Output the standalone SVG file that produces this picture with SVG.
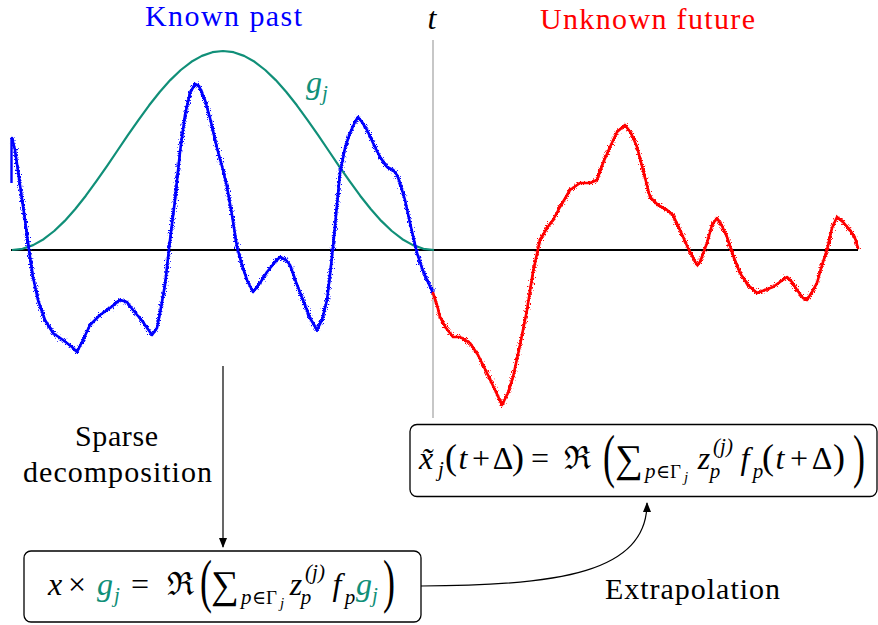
<svg xmlns="http://www.w3.org/2000/svg" width="878" height="625" viewBox="0 0 878 625">
<style>
text{font-family:"Liberation Serif","DejaVu Serif",serif;fill:#000}
.lab{font-size:30px}
.m{font-size:32px}
.i{font-style:italic}
.c{text-anchor:middle}
.s{font-size:21px}
.s2{font-size:19px}
.ss{font-size:15px}
.pr{font-size:36px}
.sum{font-size:39px}
.gr{fill:#108f78}
.box{fill:#fff;stroke:#000;stroke-width:1.3}
.conn{fill:none;stroke:#000;stroke-width:1.2}
.sig{fill:none;stroke-width:2.6;stroke-linejoin:round;stroke-linecap:round}
.fz{fill:none;stroke-width:2.2;stroke-linejoin:round;stroke-linecap:round}
</style>
<defs>
<marker id="ah" markerUnits="userSpaceOnUse" markerWidth="10" markerHeight="8" refX="9" refY="4" orient="auto">
<path d="M0,0 L10,4 L0,8 z" fill="#000"/>
</marker>
<filter id="jit" filterUnits="userSpaceOnUse" x="0" y="0" width="878" height="625">
<feTurbulence type="fractalNoise" baseFrequency="1.3" numOctaves="2" seed="4" result="n"/>
<feDisplacementMap in="SourceGraphic" in2="n" scale="9" xChannelSelector="R" yChannelSelector="G"/>
</filter>
</defs>

<g id="plot">
<line x1="433" y1="40" x2="433" y2="418" stroke="#b5b5b5" stroke-width="1.5"/>
<line x1="11" y1="250" x2="858" y2="250" stroke="#000" stroke-width="2"/>
<polyline fill="none" stroke="#108f78" stroke-width="2.2" stroke-linejoin="round" points="12,250 22.55,248.8 33.1,245.1 43.65,239.2 54.2,231 64.75,220.9 75.3,209 85.85,195.7 96.4,181.2 106.95,166.1 117.5,150.5 128.05,134.9 138.6,119.8 149.15,105.3 159.7,92 170.25,80.1 180.8,70 191.35,61.8 201.9,55.9 212.45,52.2 223,51 233.55,52.2 244.1,55.9 254.65,61.8 265.2,70 275.75,80.1 286.3,92 296.85,105.3 307.4,119.8 317.95,134.9 328.5,150.5 339.05,166.1 349.6,181.2 360.15,195.7 370.7,209 381.25,220.9 391.8,231 402.35,239.2 412.9,245.1 423.45,248.8 434,250"/>
<g id="past">
<line x1="11.5" y1="138" x2="11.5" y2="183" stroke="#0000ff" stroke-width="2.4"/>
<polyline class="sig" stroke="#0000ff" points="12,138 15,150 20,185 25,220 29,250 33,277 38,300 45,320 53,333 63,340 72,347 77,352 83,340 90,325 100,315 110,308 120,300 127,302 133,310 143,322 152,335 157,328 160,313 165,285 170,240 175,200 180,152 185,115 190,93 195,84 199,86 205,100 210,118 217,148 223,170 227,187 232,215 237,247 242,265 247,280 253,292 260,283 267,272 275,262 280,257 286,260 290,265 296,282 303,300 310,318 317,330 322,320 327,300 330,275 333,247 337,205 340,173 345,148 350,133 355,122 358,117 362,122 367,130 373,143 380,157 387,167 393,170 397,175 400,183 405,200 410,223 414,240 417,253 422,268 427,280 433,293"/>
<polyline class="fz" stroke="#0000ff" filter="url(#jit)" points="12,138 15,150 20,185 25,220 29,250 33,277 38,300 45,320 53,333 63,340 72,347 77,352 83,340 90,325 100,315 110,308 120,300 127,302 133,310 143,322 152,335 157,328 160,313 165,285 170,240 175,200 180,152 185,115 190,93 195,84 199,86 205,100 210,118 217,148 223,170 227,187 232,215 237,247 242,265 247,280 253,292 260,283 267,272 275,262 280,257 286,260 290,265 296,282 303,300 310,318 317,330 322,320 327,300 330,275 333,247 337,205 340,173 345,148 350,133 355,122 358,117 362,122 367,130 373,143 380,157 387,167 393,170 397,175 400,183 405,200 410,223 414,240 417,253 422,268 427,280 433,293"/>
</g>
<g id="future">
<polyline class="sig" stroke="#ff0000" points="433,293 437,305 440,317 446,328 453,337 460,337 470,343 478,355 487,373 495,390 502,405 508,393 513,377 520,345 527,310 533,272 540,240 547,228 553,220 560,207 570,190 580,183 590,183 597,180 603,163 610,147 617,132 625,125 631,133 637,147 643,170 650,197 658,205 667,210 673,215 680,230 688,248 697,265 700,262 707,243 712,225 717,218 722,226 727,237 733,255 740,273 748,285 757,293 765,290 773,287 780,282 787,277 792,282 797,290 803,298 807,300 812,292 817,283 822,265 827,250 832,228 837,217 843,222 850,230 855,238 858,248"/>
<polyline class="fz" stroke="#ff0000" filter="url(#jit)" points="433,293 437,305 440,317 446,328 453,337 460,337 470,343 478,355 487,373 495,390 502,405 508,393 513,377 520,345 527,310 533,272 540,240 547,228 553,220 560,207 570,190 580,183 590,183 597,180 603,163 610,147 617,132 625,125 631,133 637,147 643,170 650,197 658,205 667,210 673,215 680,230 688,248 697,265 700,262 707,243 712,225 717,218 722,226 727,237 733,255 740,273 748,285 757,293 765,290 773,287 780,282 787,277 792,282 797,290 803,298 807,300 812,292 817,283 822,265 827,250 832,228 837,217 843,222 850,230 855,238 858,248"/>
</g>
<text class="lab" x="145" y="26" textLength="157" style="fill:#0000ff">Known past</text>
<text class="lab" x="540" y="29" textLength="215" style="fill:#ff0000">Unknown future</text>
<text class="m i c" x="432" y="29">t</text>
<text class="m i gr" x="306" y="93">g</text>
<text class="s i gr" x="322" y="100">j</text>
</g>

<g id="connectors">
<path class="conn" d="M223,366 L223,547" marker-end="url(#ah)"/>
<path class="conn" d="M421,586 C560,586 647,572 647,503" marker-end="url(#ah)"/>
</g>

<g id="label-sparse">
<text class="lab" x="75" y="446" textLength="83">Sparse</text>
<text class="lab" x="23" y="482" textLength="189">decomposition</text>
</g>

<g id="label-extrapolation">
<text class="lab" x="605" y="599" textLength="175">Extrapolation</text>
</g>

<g id="box-prediction">
<rect class="box" x="410" y="424.5" width="467" height="72" rx="7"/>
<text class="m i c" x="426" y="469">x̃</text>
<text class="s i c" x="441" y="476">j</text>
<text class="pr c" x="451" y="469">(</text>
<text class="m i c" x="463" y="469">t</text>
<text class="m c" x="481" y="469">+</text>
<text class="m c" x="503" y="469">Δ</text>
<text class="pr c" x="518" y="469">)</text>
<text class="m c" x="540" y="469">=</text>
<text class="m c" x="577" y="469">ℜ</text>
<text class="c" font-size="30" transform="translate(609,475.6) scale(1.2,2)">(</text>
<text class="sum c" x="629" y="472">∑</text>
<text class="s i" x="645" y="478">p</text>
<text class="s2" x="656" y="478">∈Γ</text>
<text class="ss i" x="684" y="482">j</text>
<text class="m i c" x="704" y="469">z</text>
<text class="s i c" x="723" y="453">(j)</text>
<text class="s i c" x="715" y="478">p</text>
<text class="m i c" x="745" y="469">f</text>
<text class="s i c" x="758" y="478">p</text>
<text class="pr c" x="768" y="469">(</text>
<text class="m i c" x="780" y="469">t</text>
<text class="m c" x="799" y="469">+</text>
<text class="m c" x="822" y="469">Δ</text>
<text class="pr c" x="839" y="469">)</text>
<text class="c" font-size="30" transform="translate(859,475.6) scale(1.2,2)">)</text>
</g>

<g id="box-decomposition">
<rect class="box" x="24" y="551" width="397" height="71" rx="7"/>
<text class="m i c" x="55" y="595">x</text>
<text class="m c" x="77" y="595">×</text>
<text class="m i c gr" x="105" y="595">g</text>
<text class="s i c gr" x="117" y="602">j</text>
<text class="m c" x="140" y="595">=</text>
<text class="m c" x="180" y="595">ℜ</text>
<text class="c" font-size="30" transform="translate(206,601) scale(1.2,2)">(</text>
<text class="sum c" x="225" y="598">∑</text>
<text class="s i" x="241" y="604">p</text>
<text class="s2" x="252" y="604">∈Γ</text>
<text class="ss i" x="280" y="608">j</text>
<text class="m i c" x="296" y="595">z</text>
<text class="s i c" x="315" y="579">(j)</text>
<text class="s i c" x="306" y="604">p</text>
<text class="m i c" x="337" y="595">f</text>
<text class="s i c" x="350" y="604">p</text>
<text class="m i c gr" x="364" y="595">g</text>
<text class="s i c gr" x="375" y="602">j</text>
<text class="c" font-size="30" transform="translate(389,601) scale(1.2,2)">)</text>
</g>
</svg>
